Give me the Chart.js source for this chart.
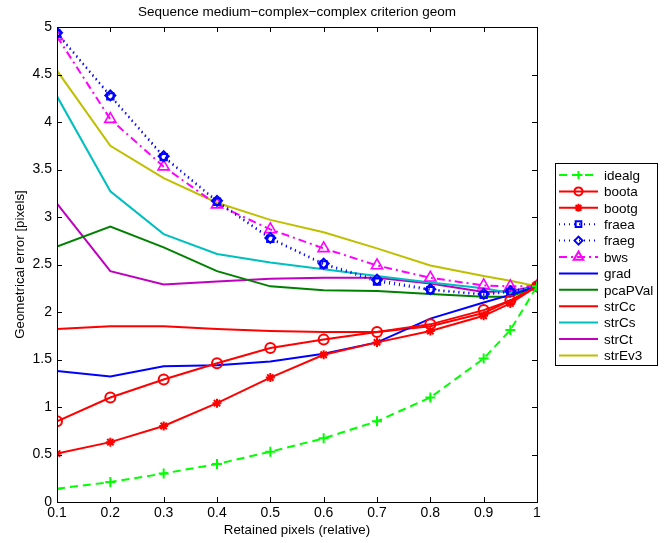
<!DOCTYPE html>
<html>
<head>
<meta charset="utf-8">
<script src="https://cdn.jsdelivr.net/npm/chart.js@4/dist/chart.umd.min.js"></script>
<style>
  html, body { margin: 0; padding: 0; background: #fff; }
  #wrap { width: 672px; height: 543px; }
</style>
</head>
<body>
<div id="wrap"><canvas id="chart" width="672" height="543"></canvas></div>
<script>
const xValues = [0.1, 0.2, 0.3, 0.4, 0.5, 0.6, 0.7, 0.8, 0.9, 0.95, 1];
const xTicks = [0.1, 0.2, 0.3, 0.4, 0.5, 0.6, 0.7, 0.8, 0.9, 1];
const yTicks = [0, 0.5, 1, 1.5, 2, 2.5, 3, 3.5, 4, 4.5, 5];

const idealg  = [0.14, 0.21, 0.30, 0.40, 0.53, 0.67, 0.85, 1.10, 1.51, 1.81, 2.27];
const boota   = [0.85, 1.10, 1.29, 1.46, 1.62, 1.71, 1.79, 1.87, 2.02, 2.12, 2.27];
const bootg   = [0.51, 0.63, 0.80, 1.04, 1.31, 1.55, 1.68, 1.80, 1.96, 2.09, 2.27];
const fraea   = [4.93, 4.27, 3.63, 3.16, 2.77, 2.50, 2.32, 2.23, 2.18, 2.21, 2.27];
const fraeg   = [4.94, 4.28, 3.64, 3.17, 2.78, 2.51, 2.34, 2.24, 2.19, 2.22, 2.27];
const bws     = [4.90, 4.03, 3.53, 3.13, 2.87, 2.67, 2.49, 2.36, 2.28, 2.27, 2.27];
const grad    = [1.38, 1.32, 1.43, 1.44, 1.48, 1.56, 1.68, 1.93, 2.10, 2.18, 2.27];
const pcaPVal = [2.69, 2.90, 2.68, 2.43, 2.27, 2.23, 2.22, 2.19, 2.16, 2.16, 2.27];
const strCc   = [1.82, 1.85, 1.85, 1.82, 1.80, 1.79, 1.79, 1.85, 1.99, 2.12, 2.27];
const strCs   = [4.27, 3.27, 2.82, 2.61, 2.52, 2.45, 2.38, 2.31, 2.25, 2.20, 2.27];
const strCt   = [3.14, 2.43, 2.29, 2.32, 2.35, 2.36, 2.36, 2.30, 2.21, 2.22, 2.27];
const strEv3  = [4.54, 3.75, 3.41, 3.15, 2.97, 2.84, 2.67, 2.49, 2.38, 2.33, 2.27];

const FONT = "'Liberation Sans', Arial, sans-serif";

function series(label, values, color, dash, marker, radius) {
  return {
    label,
    data: values.map((v, i) => ({ x: xValues[i], y: v })),
    borderColor: color,
    backgroundColor: "rgba(0,0,0,0)",
    borderWidth: 2,
    borderDash: dash,
    pointStyle: marker || false,
    pointRadius: marker ? (radius || 5) : 0,
    pointBorderColor: color,
    pointBorderWidth: marker === "triangle" ? 1.6 : 2,
    pointBackgroundColor: "rgba(0,0,0,0)",
    tension: 0
  };
}

const datasets = [
  series("idealg", idealg, "#00ff00", [8, 5], "cross"),
  series("boota", boota, "#ff0000", [], "circle"),
  series("bootg", bootg, "#ff0000", [], "star", 4.5),
  series("fraea", fraea, "#0000ff", [1, 4], "rect", 4.5),
  series("fraeg", fraeg, "#0000ff", [1, 4], "rectRot"),
  series("bws", bws, "#ff00ff", [8, 4, 2, 4], "triangle", 6.5),
  series("grad", grad, "#0000ff", []),
  series("pcaPVal", pcaPVal, "#008000", []),
  series("strCc", strCc, "#ff0000", []),
  series("strCs", strCs, "#00bfbf", []),
  series("strCt", strCt, "#bf00bf", []),
  series("strEv3", strEv3, "#bfbf00", [])
];

// box, inward ticks, title and the legend, matlab style
const matlabFrame = {
  id: "matlabFrame",
  afterDraw(chart) {
    const ctx = chart.ctx;
    const a = chart.chartArea;
    const xs = chart.scales.x;
    const ys = chart.scales.y;
    ctx.save();
    ctx.strokeStyle = "#000";
    ctx.lineWidth = 1;
    ctx.setLineDash([]);
    ctx.beginPath();
    xTicks.forEach((t) => {
      const px = Math.round(xs.getPixelForValue(t)) + 0.5;
      ctx.moveTo(px, a.bottom); ctx.lineTo(px, a.bottom - 5);
      ctx.moveTo(px, a.top); ctx.lineTo(px, a.top + 5);
    });
    yTicks.forEach((t) => {
      const py = Math.round(ys.getPixelForValue(t)) + 0.5;
      ctx.moveTo(a.left, py); ctx.lineTo(a.left + 5, py);
      ctx.moveTo(a.right, py); ctx.lineTo(a.right - 5, py);
    });
    ctx.stroke();
    ctx.strokeRect(Math.round(a.left) + 0.5, Math.round(a.top) + 0.5,
      Math.round(a.right - a.left), Math.round(a.bottom - a.top));

    ctx.fillStyle = "#000";
    ctx.font = "13.5px " + FONT;
    ctx.textAlign = "center";
    ctx.textBaseline = "middle";
    ctx.fillText("Sequence medium\u2212complex\u2212complex criterion geom", (a.left + a.right) / 2, 12);

    // legend
    const lx = 555, ly = 163, lw = 102, lh = 202, step = 16.4;
    ctx.fillStyle = "#fff";
    ctx.fillRect(lx, ly, lw, lh);
    ctx.strokeRect(lx + 0.5, ly + 0.5, lw, lh);
    chart.data.datasets.forEach((ds, i) => {
      const y = ly + 12 + i * step;
      ctx.strokeStyle = ds.borderColor;
      ctx.lineWidth = 2;
      ctx.setLineDash(ds.borderDash || []);
      ctx.beginPath();
      ctx.moveTo(lx + 4, y); ctx.lineTo(lx + 43, y);
      ctx.stroke();
      ctx.setLineDash([]);
      if (ds.pointStyle) {
        ctx.fillStyle = "rgba(0,0,0,0)";
        Chart.helpers.drawPoint(ctx, {
          pointStyle: ds.pointStyle,
          radius: ds.pointStyle === "triangle" ? 5.5 : 4,
          borderWidth: ds.pointStyle === "triangle" ? 1.5 : 2,
          rotation: 0
        }, lx + 23.5, y);
      }
      ctx.fillStyle = "#000";
      ctx.font = "13.5px " + FONT;
      ctx.textAlign = "left";
      ctx.fillText(ds.label, lx + 49, y + 1);
    });
    ctx.restore();
  }
};

new Chart(document.getElementById("chart"), {
  type: "line",
  data: { datasets },
  options: {
    responsive: false,
    animation: false,
    devicePixelRatio: 1,
    layout: { padding: { left: 0, right: 135, top: 27, bottom: 0 } },
    plugins: { legend: { display: false }, title: { display: false }, tooltip: { enabled: false } },
    scales: {
      x: {
        type: "linear",
        min: 0.1,
        max: 1,
        afterBuildTicks: (s) => { s.ticks = xTicks.map((v) => ({ value: v })); },
        afterFit: (s) => { s.height = 41; },
        grid: { display: false, drawTicks: false },
        border: { display: false },
        ticks: {
          padding: 3,
          color: "#000",
          font: { family: FONT, size: 14 },
          maxRotation: 0,
          autoSkip: false,
          callback: (v) => String(+v.toFixed(2))
        },
        title: {
          display: true,
          text: "Retained pixels (relative)",
          color: "#000",
          font: { family: FONT, size: 13.3 },
          padding: { top: 0, bottom: 5 }
        }
      },
      y: {
        type: "linear",
        min: 0,
        max: 5,
        afterBuildTicks: (s) => { s.ticks = yTicks.map((v) => ({ value: v })); },
        afterFit: (s) => { s.width = 57; },
        grid: { display: false, drawTicks: false },
        border: { display: false },
        ticks: {
          padding: 5,
          color: "#000",
          font: { family: FONT, size: 14 },
          autoSkip: false,
          callback: (v) => String(+v.toFixed(2))
        },
        title: {
          display: true,
          text: "Geometrical error [pixels]",
          color: "#000",
          font: { family: FONT, size: 13.3 },
          padding: { top: 12, bottom: 0 }
        }
      }
    }
  },
  plugins: [matlabFrame]
});
</script>
</body>
</html>
